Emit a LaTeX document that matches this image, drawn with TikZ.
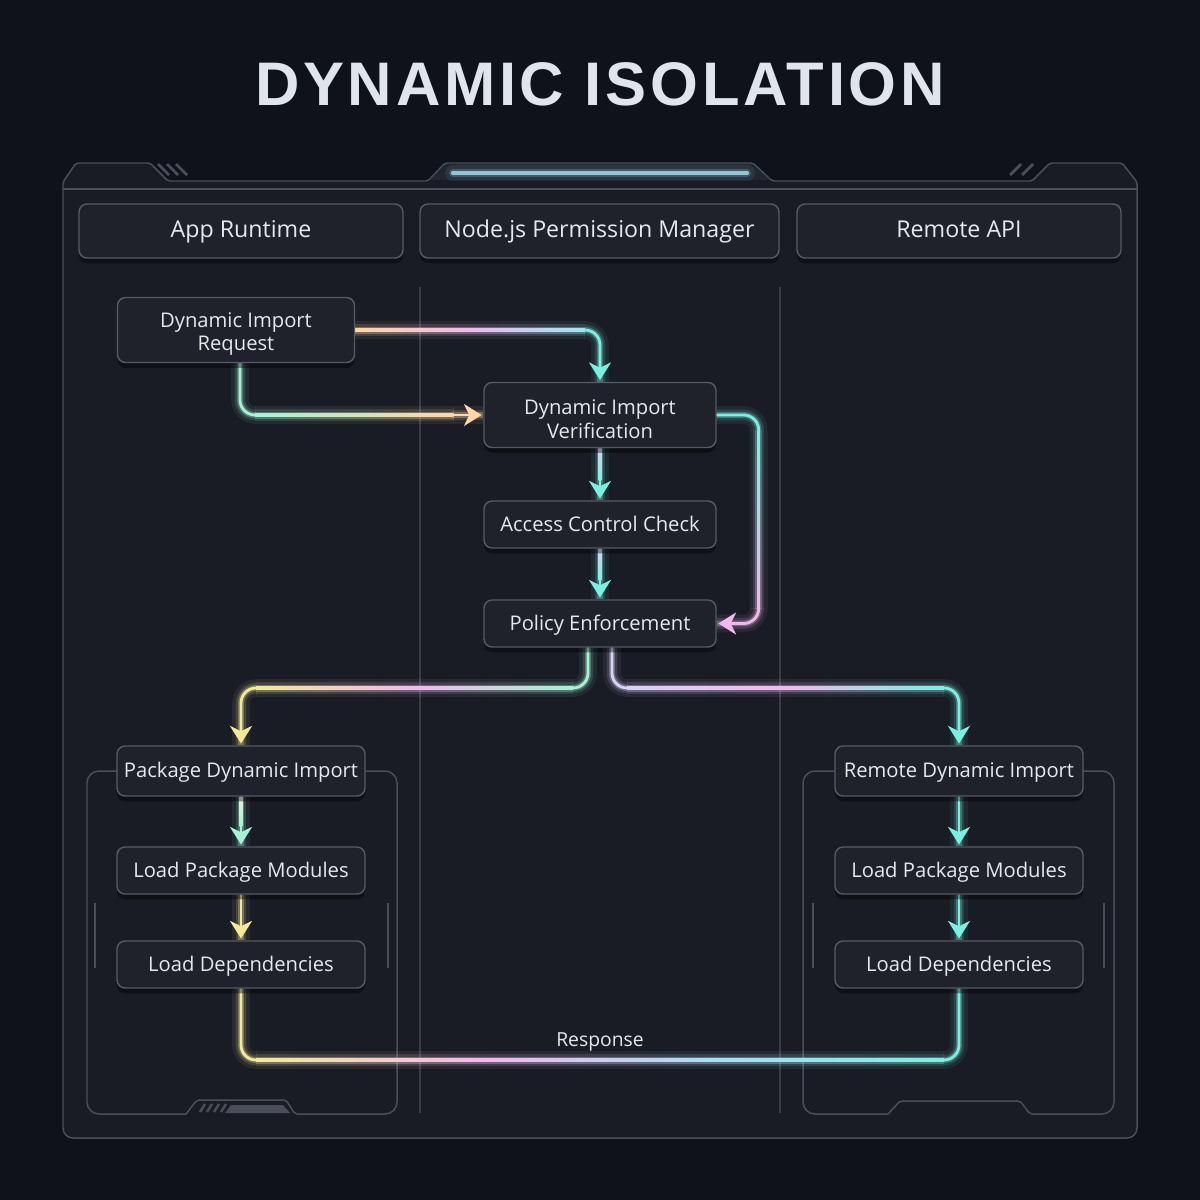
\documentclass[tikz,border=0pt]{standalone}
\usepackage{fontspec}
\setmainfont{Open Sans}
\newfontfamily\titlefont[LetterSpace=6]{Liberation Sans}
\usetikzlibrary{arrows.meta,calc,shadows}
\pgfdeclarelayer{bgl}
\pgfdeclarelayer{conn}
\pgfsetlayers{bgl,conn,main}
\definecolor{bgc}{HTML}{0F121B}
\definecolor{panelf}{HTML}{191C25}
\definecolor{framec}{HTML}{4A4E5A}
\definecolor{divc}{HTML}{393D48}
\definecolor{nodef}{HTML}{1F222B}
\definecolor{bordc}{HTML}{555A66}
\definecolor{txt}{HTML}{E6E8EC}
\definecolor{titlec}{HTML}{E0E5EC}
\definecolor{tabf}{HTML}{222630}
\definecolor{barc}{HTML}{8CC8D8}
\definecolor{peach}{HTML}{FFD6A5}
\definecolor{pinkc}{HTML}{F0B9EC}
\definecolor{cyanc}{HTML}{7CEFE0}
\definecolor{cyanl}{HTML}{9FE8F0}
\definecolor{mintc}{HTML}{A6F2D2}
\definecolor{yellowc}{HTML}{F2EA9A}
\definecolor{lavc}{HTML}{D9D2F6}
\definecolor{skyc}{HTML}{A9DDF5}
\definecolor{palec}{HTML}{EEF0DA}
\newcommand\cglow[3][]{%
  \draw[#2,opacity=.07,line width=10pt,rounded corners=0.3cm] #3;
  \draw[#2,opacity=.14,line width=6pt,rounded corners=0.3cm] #3;
  \draw[#2,opacity=.30,line width=3.4pt,rounded corners=0.3cm] #3;
  \draw[#2,line width=1.6pt,line cap=round,rounded corners=0.3cm,#1] #3;}
\newcommand\hgrad[3]{%
  \shade[#3,opacity=.07] ($(#1)+(0,-8.8)$) rectangle ($(#2)+(0,8.8)$);
  \shade[#3,opacity=.14] ($(#1)+(0,-5.3)$) rectangle ($(#2)+(0,5.3)$);
  \shade[#3,opacity=.30] ($(#1)+(0,-3)$) rectangle ($(#2)+(0,3)$);
  \shade[#3] ($(#1)+(0,-1.4)$) rectangle ($(#2)+(0,1.4)$);}
\newcommand\vgrad[3]{%
  \shade[#3,opacity=.07] ($(#1)+(-8.8,0)$) rectangle ($(#2)+(8.8,0)$);
  \shade[#3,opacity=.14] ($(#1)+(-5.3,0)$) rectangle ($(#2)+(5.3,0)$);
  \shade[#3,opacity=.30] ($(#1)+(-3,0)$) rectangle ($(#2)+(3,0)$);
  \shade[#3] ($(#1)+(-1.4,0)$) rectangle ($(#2)+(1.4,0)$);}
\newcommand\vcore[3]{\shade[#3] ($(#1)+(-1.4,0)$) rectangle ($(#2)+(1.4,0)$);}
\newcommand\topstrut{\rule{0pt}{1.15em}}
\tikzset{
  box/.style={draw=bordc, fill=nodef, line width=0.8pt, rounded corners=0.16cm,
    text=txt, align=center, inner sep=0pt, font=\fontsize{11.5}{13.4}\selectfont,
    drop shadow={shadow xshift=0pt, shadow yshift=-3pt, opacity=0.4, fill=black}},
  one/.style={text height=1em, text depth=0.25em},
  hdr/.style={box, one, minimum height=1.08cm, font=\fontsize{13.2}{15}\selectfont},
  wide/.style={minimum width=4.96cm},
  mid/.style={minimum width=4.64cm},
  arr/.style={-{Stealth[length=10pt,width=12.5pt,inset=3pt]}, shorten >=1pt},
  frame/.style={draw=framec, line width=0.85pt},
  deco/.style={draw=framec, line width=1.6pt},
}
\begin{document}
\begin{tikzpicture}[x=0.02cm,y=-0.02cm]
\useasboundingbox (0,0) rectangle (1200,1200);
\begin{pgfonlayer}{bgl}
\fill[bgc] (0,0) rectangle (1200,1200);
% main panel
\path[frame, fill=panelf] [rounded corners=0.04cm] (63,600) -- (63,182) -- (76,163) -- (150,163) -- (168,181) -- (428,181) -- (445,163) -- (753,163) -- (772,181) -- (1032,181) -- (1050,163) -- (1122,163) -- (1137,182) [rounded corners=0.2cm] -- (1137,1138) -- (63,1138) -- cycle;
\fill[tabf] (430,180) -- (446,164) -- (752,164) -- (770,180) -- cycle;
\draw[frame] (63,189) -- (1137,189);
% center glow bar
\draw[barc, opacity=.10, line width=9pt, line cap=round] (453,173) -- (747,173);
\draw[barc, opacity=.25, line width=4.5pt, line cap=round] (453,173) -- (747,173);
\draw[barc, line width=2.4pt, line cap=round] (453,173) -- (747,173);
% stripes top
\foreach \s in {158,167,176} \draw[deco] (\s,164) -- (\s+11,175);
\foreach \s in {1010,1022} \draw[deco] (\s,175) -- (\s+11,164);
% lane dividers
\draw[divc, line width=1pt] (420,287) -- (420,1113);
\draw[divc, line width=1pt] (780,287) -- (780,1113);
% group boxes
\draw[frame] (186,1114) [rounded corners=0.04cm] -- (197,1100) -- (286,1100) -- (295,1114) [rounded corners=0.24cm] -- (397,1114) -- (397,771) -- (87,771) -- (87,1114) -- (186,1114);
\draw[frame] (888,1114) [rounded corners=0.04cm] -- (900,1101) -- (1020,1101) -- (1030,1114) [rounded corners=0.24cm] -- (1114,1114) -- (1114,771) -- (803,771) -- (803,1114) -- (888,1114);
\foreach \s in {200,207,214,221} \draw[draw=framec, line width=1.4pt] (\s,1112) -- (\s+5,1104);
\fill[framec] (225,1113) -- (231,1105) -- (283,1105) -- (290,1113) -- cycle;
\foreach \s in {95,388,813,1104} \draw[draw=framec, line width=1.1pt] (\s,903) -- (\s,968);
\end{pgfonlayer}
% title
\node[text=titlec, inner sep=0pt, font=\titlefont\bfseries\fontsize{35}{40}\selectfont] (title) at (600,84.5) {DYNAMIC ISOLATION};
% headers
\node[hdr, minimum width=6.48cm] (h1) at (241,231) {App Runtime};
\node[hdr, minimum width=7.18cm] (h2) at (599.5,231) {Node.js Permission Manager};
\node[hdr, minimum width=6.48cm] (h3) at (959,231) {Remote API};
% nodes
\node[box, minimum width=4.74cm, minimum height=1.3cm] (req) at (236,330) {\topstrut Dynamic Import\\Request};
\node[box, mid, minimum height=1.3cm] (ver) at (600,415) {\topstrut Dynamic Import\\Verification};
\node[box, one, mid, minimum height=0.94cm] (acc) at (600,524.5) {Access Control Check};
\node[box, one, mid, minimum height=0.94cm] (pol) at (600,623.5) {Policy Enforcement};
\node[box, one, wide, minimum height=1cm] (pkg) at (241,771) {Package Dynamic Import};
\node[box, one, wide, minimum height=0.94cm] (lpmL) at (241,870.5) {Load Package Modules};
\node[box, one, wide, minimum height=0.94cm] (ldL) at (241,964.5) {Load Dependencies};
\node[box, one, wide, minimum height=1cm] (rdi) at (959,771) {Remote Dynamic Import};
\node[box, one, wide, minimum height=0.94cm] (lpmR) at (959,870.5) {Load Package Modules};
\node[box, one, wide, minimum height=0.94cm] (ldR) at (959,964.5) {Load Dependencies};
\node[one, text=txt, inner sep=0pt, font=\fontsize{11}{13}\selectfont] (resp) at (600,1040) {Response};
% connectors
\begin{pgfonlayer}{conn}
% request -> verification (top)
\coordinate (c1) at (req.east -| ver.north);
\coordinate (c1b) at ($(c1)+(-15,0)$);
\hgrad{req.east}{c1b}{left color=peach, right color=cyanl, middle color=pinkc}
\cglow[arr]{cyanc}{(c1b) -- (c1) -- (ver.north)}
% request -> verification (left)
\coordinate (s2) at ($(req.south)+(4,0)$);
\coordinate (c2) at (s2 |- ver.west);
\coordinate (c2b) at ($(c2)+(15,0)$);
\coordinate (c2c) at ($(ver.west)+(-30,0)$);
\cglow{mintc}{(s2) -- (c2) -- (c2b)}
\hgrad{c2b}{c2c}{left color=mintc, right color=peach}
\cglow[arr]{peach}{(c2c) -- (ver.west)}
% verification -> policy (loop)
\coordinate (c3) at ($(ver.east)+(42,0)$);
\coordinate (c3b) at ($(c3)+(0,15)$);
\coordinate (c3d) at (c3 |- pol.east);
\coordinate (c3c) at ($(c3d)+(0,-15)$);
\cglow{cyanc}{(ver.east) -- (c3) -- (c3b)}
\vgrad{c3b}{c3c}{top color=cyanc, bottom color=pinkc}
\cglow[arr]{pinkc}{(c3c) -- (c3d) -- (pol.east)}
% vertical chain
\cglow[arr]{cyanc}{(ver.south) -- (acc.north)}
\vcore{ver.south}{$(ver.south)+(0,32)$}{top color=lavc, bottom color=cyanc}
\cglow[arr]{cyanc}{(acc.south) -- (pol.north)}
\vcore{acc.south}{$(acc.south)+(0,32)$}{top color=lavc, bottom color=cyanc}
% policy -> package
\coordinate (bus) at (600,688);
\coordinate (s6) at ($(pol.south)+(-12,0)$);
\coordinate (c6a) at (s6 |- bus);
\coordinate (c6b) at ($(c6a)+(-15,0)$);
\coordinate (c6c) at (pkg.north |- bus);
\coordinate (c6d) at ($(c6c)+(15,0)$);
\cglow{mintc}{(s6) -- (c6a) -- (c6b)}
\hgrad{c6d}{c6b}{left color=yellowc, right color=mintc, middle color=pinkc}
\cglow[arr]{yellowc}{(c6d) -- (c6c) -- (pkg.north)}
% policy -> remote
\coordinate (s7) at ($(pol.south)+(12,0)$);
\coordinate (c7a) at (s7 |- bus);
\coordinate (c7b) at ($(c7a)+(15,0)$);
\coordinate (c7c) at (rdi.north |- bus);
\coordinate (c7d) at ($(c7c)+(-15,0)$);
\cglow{lavc}{(s7) -- (c7a) -- (c7b)}
\hgrad{c7b}{c7d}{left color=lavc, right color=cyanc, middle color=pinkc}
\cglow[arr]{cyanc}{(c7d) -- (c7c) -- (rdi.north)}
% left chain
\cglow[arr]{mintc}{(pkg.south) -- (lpmL.north)}
\vcore{pkg.south}{$(pkg.south)+(0,30)$}{top color=palec, bottom color=mintc}
\cglow[arr]{yellowc}{(lpmL.south) -- (ldL.north)}
% right chain
\cglow[arr]{cyanc}{(rdi.south) -- (lpmR.north)}
\cglow[arr]{cyanc}{(lpmR.south) -- (ldR.north)}
% response
\coordinate (rbus) at (600,1060);
\coordinate (c12a) at (ldL.south |- rbus);
\coordinate (c12b) at ($(c12a)+(15,0)$);
\coordinate (c12c) at (ldR.south |- rbus);
\coordinate (c12d) at ($(c12c)+(-15,0)$);
\coordinate (m1) at ($(c12b)!0.33!(c12d)$);
\coordinate (m2) at ($(c12b)!0.67!(c12d)$);
\cglow{yellowc}{(ldL.south) -- (c12a) -- (c12b)}
\hgrad{c12b}{m1}{left color=yellowc, right color=pinkc}
\hgrad{m1}{m2}{left color=pinkc, right color=skyc}
\hgrad{m2}{c12d}{left color=skyc, right color=cyanc}
\cglow{cyanc}{(c12d) -- (c12c) -- (ldR.south)}
\end{pgfonlayer}
\end{tikzpicture}
\end{document}
